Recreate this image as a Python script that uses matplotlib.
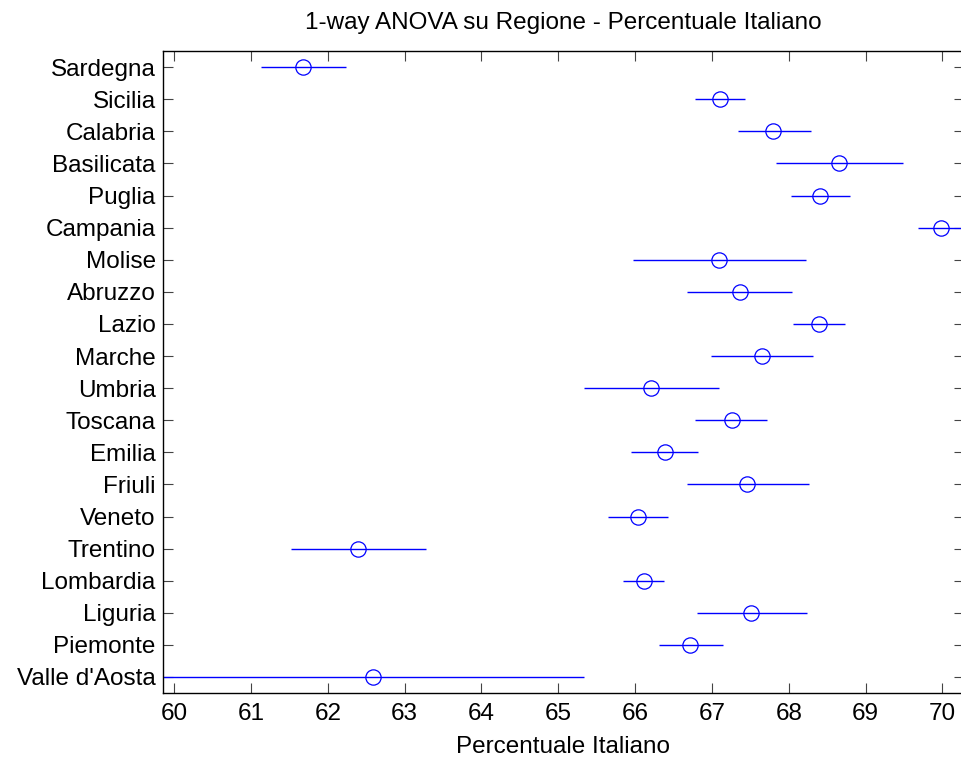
import numpy as np
import matplotlib.pyplot as plt

plt.rcParams['font.family'] = ['Liberation Sans', 'DejaVu Sans']

# regions, top to bottom as drawn
regions = ["Sardegna", "Sicilia", "Calabria", "Basilicata", "Puglia",
           "Campania", "Molise", "Abruzzo", "Lazio", "Marche", "Umbria",
           "Toscana", "Emilia", "Friuli", "Veneto", "Trentino", "Lombardia",
           "Liguria", "Piemonte", "Valle d'Aosta"]

# group means and comparison interval limits
means = [61.68, 67.11, 67.80, 68.65, 68.41, 69.98, 67.09, 67.36, 68.39, 67.65,
         66.21, 67.26, 66.39, 67.46, 66.04, 62.40, 66.11, 67.51, 66.72, 62.59]
lower = [61.13, 66.78, 67.34, 67.83, 68.03, 69.68, 65.97, 66.68, 68.05, 66.99,
         65.33, 66.78, 65.95, 66.68, 65.65, 61.52, 65.84, 66.80, 66.31, 59.85]
upper = [62.24, 67.43, 68.29, 69.49, 68.80, 70.28, 68.22, 68.04, 68.73, 68.31,
         67.09, 67.72, 66.82, 68.26, 66.43, 63.28, 66.38, 68.24, 67.14, 65.33]

xticks = list(range(60, 71))

fig = plt.figure(figsize=(9.62, 7.57), dpi=100)
ax = fig.add_axes([0.169, 0.0845, 0.833, 0.848])

pos = np.arange(1, len(regions) + 1)
ax.hlines(pos, lower, upper, color='#0000ff', lw=1.0)
ax.plot(means, pos, 'o', mfc='none', mec='#0000ff', ms=11, mew=0.9)

ax.set_xlim(59.85, 70.28)
ax.set_ylim(len(regions) + 0.5, 0.5)
ax.set_xticks(xticks)
ax.set_yticks(pos)
ax.set_yticklabels(regions)

ax.tick_params(direction='in', length=7, width=0.8, color='#444444',
               labelsize=17.5, top=True, right=True, labelcolor='black')
ax.tick_params(axis='y', pad=5)
ax.tick_params(axis='x', pad=7)
for s in ax.spines.values():
    s.set_linewidth(1.0)

ax.set_xlabel('Percentuale Italiano', fontsize=17.5, labelpad=8)
ax.set_title('1-way ANOVA su Regione - Percentuale Italiano', fontsize=17.5, pad=16)

fig.savefig('out.png', dpi=100)
